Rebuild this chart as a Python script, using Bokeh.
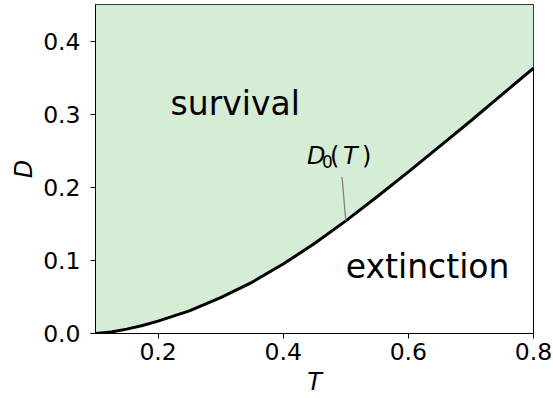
from bokeh.plotting import figure
from bokeh.models import FixedTicker, PrintfTickFormatter, Label, Range1d
from bokeh.embed import file_html
from bokeh.resources import INLINE

# Critical dilution threshold D0(T) separating survival from extinction
T_vals = [0.100, 0.125, 0.150, 0.175, 0.20, 0.25, 0.30, 0.35, 0.40, 0.45, 0.50,
          0.55, 0.60, 0.65, 0.70, 0.75, 0.80]
D0_vals = [0.000, 0.002, 0.006, 0.011, 0.017, 0.031, 0.049, 0.070, 0.095, 0.123, 0.154,
           0.187, 0.221, 0.256, 0.291, 0.327, 0.363]

x_ticks = [0.2, 0.4, 0.6, 0.8]
y_ticks = [0.0, 0.1, 0.2, 0.3, 0.4]

T_MIN, T_MAX = 0.1, 0.8
D_MIN, D_MAX = 0.0, 0.45

FONT = "DejaVu Sans"
GREEN_FILL = "#d5ecd5"

p = figure(width=553, height=398, output_backend="svg", toolbar_location=None,
           x_range=Range1d(T_MIN, T_MAX), y_range=Range1d(D_MIN, D_MAX),
           min_border_left=95, min_border_right=20, min_border_top=4,
           min_border_bottom=65)
p.background_fill_color = "white"
p.border_fill_color = "white"
p.outline_line_color = "black"
p.outline_line_width = 1
p.xgrid.visible = False
p.ygrid.visible = False

# survival region above the threshold curve
p.varea(x=T_vals, y1=D0_vals, y2=[D_MAX] * len(T_vals), fill_color=GREEN_FILL)
p.line(T_vals, D0_vals, line_color="black", line_width=3)

# axes
for ax in (p.xaxis, p.yaxis):
    ax.axis_line_color = "black"
    ax.axis_line_width = 1
    ax.major_tick_line_color = "black"
    ax.major_tick_line_width = 1
    ax.major_tick_in = 0
    ax.major_tick_out = 5
    ax.minor_tick_line_color = None
    ax.major_label_text_font = FONT
    ax.major_label_text_font_size = "23.5px"
    ax.major_label_text_color = "black"
    ax.axis_label_text_font = FONT
    ax.axis_label_text_font_size = "24px"
    ax.axis_label_text_font_style = "italic"
    ax.axis_label_text_color = "black"
    ax.formatter = PrintfTickFormatter(format="%.1f")

p.xaxis.ticker = FixedTicker(ticks=x_ticks)
p.yaxis.ticker = FixedTicker(ticks=y_ticks)
p.xaxis.axis_label = "T"
p.yaxis.axis_label = "D"
p.xaxis.major_label_standoff = 4
p.yaxis.major_label_standoff = 10
p.xaxis.axis_label_standoff = 5
p.yaxis.axis_label_standoff = 2

# region labels
for tx, ty, dy, txt in [(0.22, 0.30, 11, "survival"), (0.50, 0.08, 9, "extinction")]:
    p.add_layout(Label(x=tx, y=ty, y_offset=dy, text=txt, text_font=FONT,
                       text_font_size="33px", text_color="black",
                       text_baseline="alphabetic", text_align="left"))

# pointer from the curve at T = 0.5 to its label
i_mid = T_vals.index(0.50)
p.segment(x0=[T_vals[i_mid]], y0=[D0_vals[i_mid]], x1=[0.494], y1=[0.214],
          line_color="gray", line_width=1.3)

# D_0(T) label, assembled from pieces (italic symbols, upright subscript)
lab_x, lab_y = 0.49, 0.232
pieces = [
    ("D", -32.5, 8, "24px", "italic"),
    ("0", -17.5, 2.5, "17px", "normal"),
    ("(", -9.5, 8, "24px", "normal"),
    ("T", 3.5, 8, "24px", "italic"),
    (")", 22.5, 8, "24px", "normal"),
]
for txt, dx, dy, size, style in pieces:
    p.add_layout(Label(x=lab_x, y=lab_y, x_offset=dx, y_offset=dy, text=txt,
                       text_font=FONT, text_font_size=size,
                       text_font_style=style, text_color="black",
                       text_baseline="alphabetic", text_align="left"))

open("out.html", "w").write(file_html(p, INLINE))
